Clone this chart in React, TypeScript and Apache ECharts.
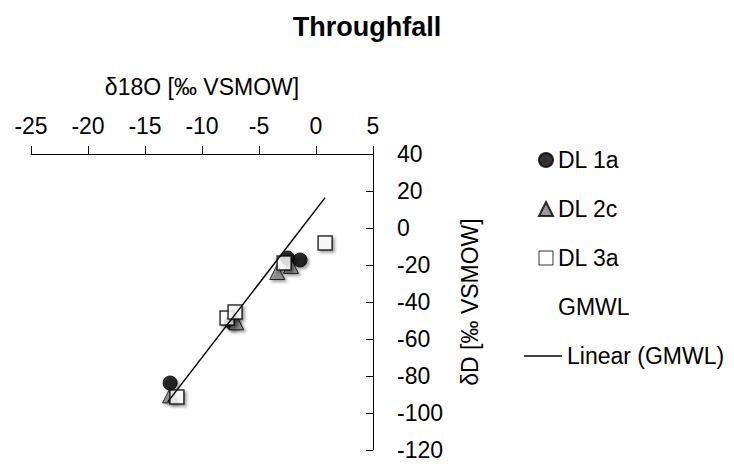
import React, { useEffect, useRef } from "react";
import * as echarts from "echarts";

const titleText = "Throughfall";
const xName = "δ18O [‰ VSMOW]";
const yName = "δD [‰ VSMOW]";

const dl1aX = [-2.5, -1.4, -7.4, -12.8];
const dl1aY = [-16.2, -17.3, -51, -83.8];

const dl2cX = [-3.4, -2.2, -7.0, -12.8];
const dl2cY = [-23.8, -20.5, -51, -90.5];

const dl3aX = [0.8, -2.8, -7.8, -7.1, -12.2];
const dl3aY = [-8.1, -18.9, -48.6, -45.4, -91.4];

const gmwlX = [-13.0, 0.8];
const gmwlY = [-94.0, 16.4];

const zip = (xs: number[], ys: number[]) => xs.map((x, i) => [x, ys[i]]);

const FONT = "Liberation Sans";
const shadow = {
  shadowColor: "rgba(0,0,0,0.45)",
  shadowBlur: 3,
  shadowOffsetX: 2,
  shadowOffsetY: 2,
};
const noShadow = {
  shadowColor: "rgba(0,0,0,0)",
  shadowBlur: 0,
  shadowOffsetX: 0,
  shadowOffsetY: 0,
};

export default function App() {
  const ref = useRef<HTMLDivElement>(null);
  useEffect(() => {
    if (!ref.current) return;
    const chart = echarts.init(ref.current, undefined, { renderer: "svg" });
    chart.setOption({
      animation: false,
      backgroundColor: "#ffffff",
      textStyle: { fontFamily: FONT },
      title: {
        text: titleText,
        left: "center",
        top: 8,
        textStyle: { fontFamily: FONT, fontWeight: "bold", fontSize: 27, color: "#000" },
      },
      grid: { left: 31, right: 361, top: 154, bottom: 14 },
      xAxis: {
        type: "value",
        position: "top",
        min: -25,
        max: 5,
        interval: 5,
        name: xName,
        nameLocation: "middle",
        nameGap: 56,
        nameTextStyle: { fontFamily: FONT, fontSize: 23, color: "#000" },
        axisLine: { onZero: false, lineStyle: { color: "#000", width: 1 } },
        axisTick: { show: true, inside: false, length: 8, lineStyle: { color: "#000" } },
        axisLabel: { fontFamily: FONT, fontSize: 23, color: "#000", margin: 17 },
        splitLine: { show: false },
      },
      yAxis: {
        type: "value",
        position: "right",
        min: -120,
        max: 40,
        interval: 20,
        name: yName,
        nameLocation: "middle",
        nameRotate: 90,
        nameGap: 85,
        nameTextStyle: { fontFamily: FONT, fontSize: 23, color: "#000" },
        axisLine: { onZero: false, lineStyle: { color: "#000", width: 1 } },
        axisTick: { show: true, inside: true, length: 7, lineStyle: { color: "#000" } },
        axisLabel: { fontFamily: FONT, fontSize: 23, color: "#000", margin: 24 },
        splitLine: { show: false },
      },
      legend: [
        {
          orient: "vertical",
          left: 538,
          top: 147,
          padding: 0,
          itemWidth: 14,
          itemHeight: 14,
          itemGap: 23,
          itemStyle: noShadow,
          textStyle: { fontFamily: FONT, fontSize: 23, color: "#000", lineHeight: 26 },
          data: [
            { name: "DL 1a", icon: "circle", itemStyle: { ...noShadow, color: "#000" } },
            { name: "DL 2c", icon: "triangle", itemStyle: { ...noShadow, color: "#7f7f7f" } },
            { name: "DL 3a", icon: "rect", itemStyle: { ...noShadow, color: "#fff", borderWidth: 1 } },
            { name: "GMWL", icon: "none" },
          ],
        },
        {
          orient: "vertical",
          left: 524,
          top: 343,
          padding: 0,
          itemWidth: 38,
          itemHeight: 1.5,
          itemStyle: noShadow,
          textStyle: { fontFamily: FONT, fontSize: 23, color: "#000", lineHeight: 26 },
          data: [{ name: "Linear (GMWL)", icon: "rect" }],
        },
      ],
      series: [
        {
          name: "DL 1a",
          type: "scatter",
          symbol: "circle",
          symbolSize: 14,
          itemStyle: { color: "#000", borderColor: "#000", borderWidth: 1, ...shadow },
          data: zip(dl1aX, dl1aY),
        },
        {
          name: "DL 2c",
          type: "scatter",
          symbol: "triangle",
          symbolSize: 15,
          itemStyle: { color: "#7f7f7f", borderColor: "#000", borderWidth: 1, ...shadow },
          data: zip(dl2cX, dl2cY),
        },
        {
          name: "DL 3a",
          type: "scatter",
          symbol: "rect",
          symbolSize: 14,
          itemStyle: { color: "#fff", borderColor: "#000", borderWidth: 1.5, ...shadow },
          data: zip(dl3aX, dl3aY),
        },
        {
          name: "GMWL",
          type: "scatter",
          symbol: "none",
          itemStyle: { color: "#000" },
          data: zip(gmwlX, gmwlY),
        },
        {
          name: "Linear (GMWL)",
          type: "line",
          symbol: "none",
          itemStyle: { color: "#000" },
          lineStyle: { color: "#000", width: 1.5 },
          z: 5,
          data: zip(gmwlX, gmwlY),
        },
      ],
    });
    return () => chart.dispose();
  }, []);
  return (
    <div
      ref={ref}
      style={{ position: "fixed", left: 0, top: 0, width: 734, height: 464, background: "#fff" }}
    />
  );
}
